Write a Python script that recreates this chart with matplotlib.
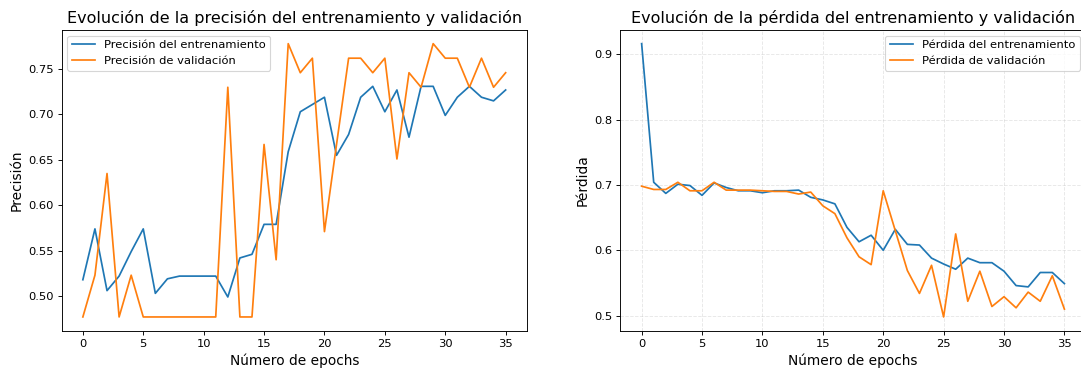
import matplotlib
matplotlib.use("Agg")
import matplotlib.pyplot as plt

# -----------------------------
# Training history (36 epochs)
# -----------------------------
epochs = list(range(36))

train_acc = [0.518, 0.574, 0.506, 0.522, 0.549, 0.574, 0.503, 0.519, 0.522, 0.522,
             0.522, 0.522, 0.499, 0.542, 0.546, 0.579, 0.579, 0.659, 0.703, 0.711,
             0.719, 0.655, 0.678, 0.719, 0.731, 0.703, 0.727, 0.675, 0.731, 0.731,
             0.699, 0.719, 0.731, 0.719, 0.715, 0.727]

val_acc = [0.477, 0.523, 0.635, 0.477, 0.523, 0.477, 0.477, 0.477, 0.477, 0.477,
           0.477, 0.477, 0.730, 0.477, 0.477, 0.667, 0.540, 0.778, 0.746, 0.762,
           0.571, 0.667, 0.762, 0.762, 0.746, 0.762, 0.651, 0.746, 0.730, 0.778,
           0.762, 0.762, 0.730, 0.762, 0.730, 0.746]

train_loss = [0.916, 0.704, 0.687, 0.701, 0.699, 0.684, 0.703, 0.696, 0.691, 0.691,
              0.688, 0.691, 0.691, 0.692, 0.681, 0.677, 0.671, 0.635, 0.613, 0.623,
              0.600, 0.632, 0.609, 0.608, 0.588, 0.579, 0.571, 0.588, 0.581, 0.581,
              0.568, 0.546, 0.544, 0.566, 0.566, 0.549]

val_loss = [0.698, 0.693, 0.693, 0.704, 0.691, 0.691, 0.704, 0.692, 0.692, 0.692,
            0.691, 0.690, 0.690, 0.686, 0.689, 0.668, 0.656, 0.619, 0.590, 0.578,
            0.691, 0.630, 0.569, 0.534, 0.577, 0.498, 0.625, 0.522, 0.568, 0.514,
            0.529, 0.512, 0.536, 0.522, 0.561, 0.510]

# -----------------------------
# Plot
# -----------------------------
DPI = 82.5
fig, (ax1, ax2) = plt.subplots(1, 2, figsize=(1081 / DPI, 369 / DPI), dpi=DPI)
fig.subplots_adjust(left=0.0571, right=1.0042, top=0.9187, bottom=0.104, wspace=0.2015)

ax1.plot(epochs, train_acc, label="Precisión del entrenamiento")
ax1.plot(epochs, val_acc, label="Precisión de validación")
ax1.set_title("Evolución de la precisión del entrenamiento y validación", fontsize=14)
ax1.set_xlabel("Número de epochs", fontsize=12)
ax1.set_ylabel("Precisión", fontsize=12)
ax1.legend(loc="upper left")

ax2.plot(epochs, train_loss, label="Pérdida del entrenamiento")
ax2.plot(epochs, val_loss, label="Pérdida de validación")
ax2.set_title("Evolución de la pérdida del entrenamiento y validación", fontsize=14)
ax2.set_xlabel("Número de epochs", fontsize=12)
ax2.set_ylabel("Pérdida", fontsize=12)
ax2.legend(loc="upper right")
ax2.grid(True, linestyle="--", alpha=0.3)

fig.savefig("out.png", dpi=DPI)
